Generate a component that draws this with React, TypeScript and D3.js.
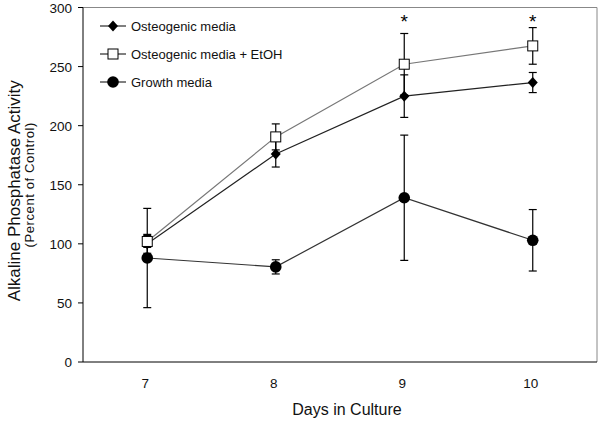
import React from "react";
import * as d3 from "d3";

const days = [7, 8, 9, 10];
const yTicks = [0, 50, 100, 150, 200, 250, 300];

// Osteogenic media (diamonds)
const osteoMean = [100, 176, 225, 236.5];
const osteoErr = [8, 11, 18, 8.5];
// Osteogenic media + EtOH (open squares)
const etohMean = [102, 190.5, 252, 267.5];
const etohErr = [5, 11, 26, 15.5];
// Growth media (filled circles)
const growthMean = [88, 80.5, 139, 103];
const growthErr = [42, 6, 53, 26];

const starDays = [9, 10];

const W = 601;
const H = 421;
const m = { left: 83, right: 597, top: 7.5, bottom: 362 };
const font = "'Liberation Sans', Arial, sans-serif";

const App = () => {
  const x = d3.scaleLinear().domain([6.5, 10.5]).range([m.left, m.right]);
  const y = d3.scaleLinear().domain([0, 300]).range([m.bottom, m.top]);
  const line = d3
    .line<[number, number]>()
    .x((d) => x(d[0]))
    .y((d) => y(d[1]));

  const series = [
    { name: "Growth media", mean: growthMean, err: growthErr, stroke: "#333", shape: "circle" },
    { name: "Osteogenic media", mean: osteoMean, err: osteoErr, stroke: "#222", shape: "diamond" },
    { name: "Osteogenic media + EtOH", mean: etohMean, err: etohErr, stroke: "#777", shape: "square" },
  ];

  const marker = (shape: string, cx: number, cy: number, key: any) => {
    if (shape === "circle") return <circle key={key} cx={cx} cy={cy} r={5.8} fill="#000" />;
    if (shape === "diamond")
      return (
        <path
          key={key}
          d={`M${cx},${cy - 5.5}L${cx + 5},${cy}L${cx},${cy + 5.5}L${cx - 5},${cy}Z`}
          fill="#000"
        />
      );
    return (
      <rect key={key} x={cx - 5} y={cy - 5} width={10} height={10} fill="#fff" stroke="#000" strokeWidth={1} />
    );
  };

  const legend = [
    { name: "Osteogenic media", shape: "diamond", y: 26 },
    { name: "Osteogenic media + EtOH", shape: "square", y: 54 },
    { name: "Growth media", shape: "circle", y: 82 },
  ];

  return (
    <svg width={W} height={H} style={{ position: "absolute", left: 0, top: 0, background: "#fff" }}>
      {/* frame */}
      <line x1={m.left} x2={m.right} y1={m.top} y2={m.top} stroke="#888" />
      <line x1={m.right} x2={m.right} y1={m.top} y2={m.bottom} stroke="#888" />
      <line x1={m.left} x2={m.left} y1={m.top} y2={m.bottom} stroke="#000" />
      <line x1={m.left} x2={m.right} y1={m.bottom} y2={m.bottom} stroke="#000" />

      {yTicks.map((t) => (
        <g key={t}>
          <line x1={m.left - 5} x2={m.left} y1={y(t)} y2={y(t)} stroke="#000" />
          <text x={m.left - 11} y={y(t) + 5} textAnchor="end" fontSize={13.5} fontFamily={font} fill="#111">
            {t}
          </text>
        </g>
      ))}
      {days.map((d) => (
        <text key={d} x={x(d) - 2} y={388} textAnchor="middle" fontSize={13.5} fontFamily={font} fill="#111">
          {d}
        </text>
      ))}

      <text x={347} y={415} textAnchor="middle" fontSize={16} fontFamily={font} fill="#111">
        Days in Culture
      </text>
      <text
        transform={`translate(20,${(m.top + m.bottom) / 2 + 6}) rotate(-90)`}
        textAnchor="middle"
        fontSize={17}
        fontFamily={font}
        fill="#111"
      >
        Alkaline Phosphatase Activity
      </text>
      <text
        transform={`translate(34,${(m.top + m.bottom) / 2}) rotate(-90)`}
        textAnchor="middle"
        fontSize={13}
        letterSpacing={0.6}
        fontFamily={font}
        fill="#111"
      >
        (Percent of Control)
      </text>

      {series.map((s) => (
        <path
          key={s.name + "l"}
          d={line(days.map((d, i) => [d, s.mean[i]]) as [number, number][]) || ""}
          fill="none"
          stroke={s.stroke}
          strokeWidth={1.2}
        />
      ))}
      {series.map((s) =>
        days.map((d, i) => {
          const cx = x(d);
          const lo = y(s.mean[i] - s.err[i]);
          const hi = y(s.mean[i] + s.err[i]);
          return (
            <g key={s.name + d} stroke="#000" strokeWidth={1.2}>
              <line x1={cx} x2={cx} y1={lo} y2={hi} />
              <line x1={cx - 4} x2={cx + 4} y1={lo} y2={lo} />
              <line x1={cx - 4} x2={cx + 4} y1={hi} y2={hi} />
            </g>
          );
        })
      )}
      {series.map((s) => days.map((d, i) => marker(s.shape, x(d), y(s.mean[i]), s.name + d + "m")))}

      {starDays.map((d) => (
        <text key={d} x={x(d)} y={28} textAnchor="middle" fontSize={19} fontFamily={font} fill="#000">
          *
        </text>
      ))}

      {legend.map((l) => (
        <g key={l.name}>
          <line x1={100} x2={126} y1={l.y} y2={l.y} stroke="#000" />
          {marker(l.shape, 113, l.y, l.name + "lm")}
          <text x={131} y={l.y + 4.5} fontSize={13} fontFamily={font} fill="#111">
            {l.name}
          </text>
        </g>
      ))}
    </svg>
  );
};

export default App;
